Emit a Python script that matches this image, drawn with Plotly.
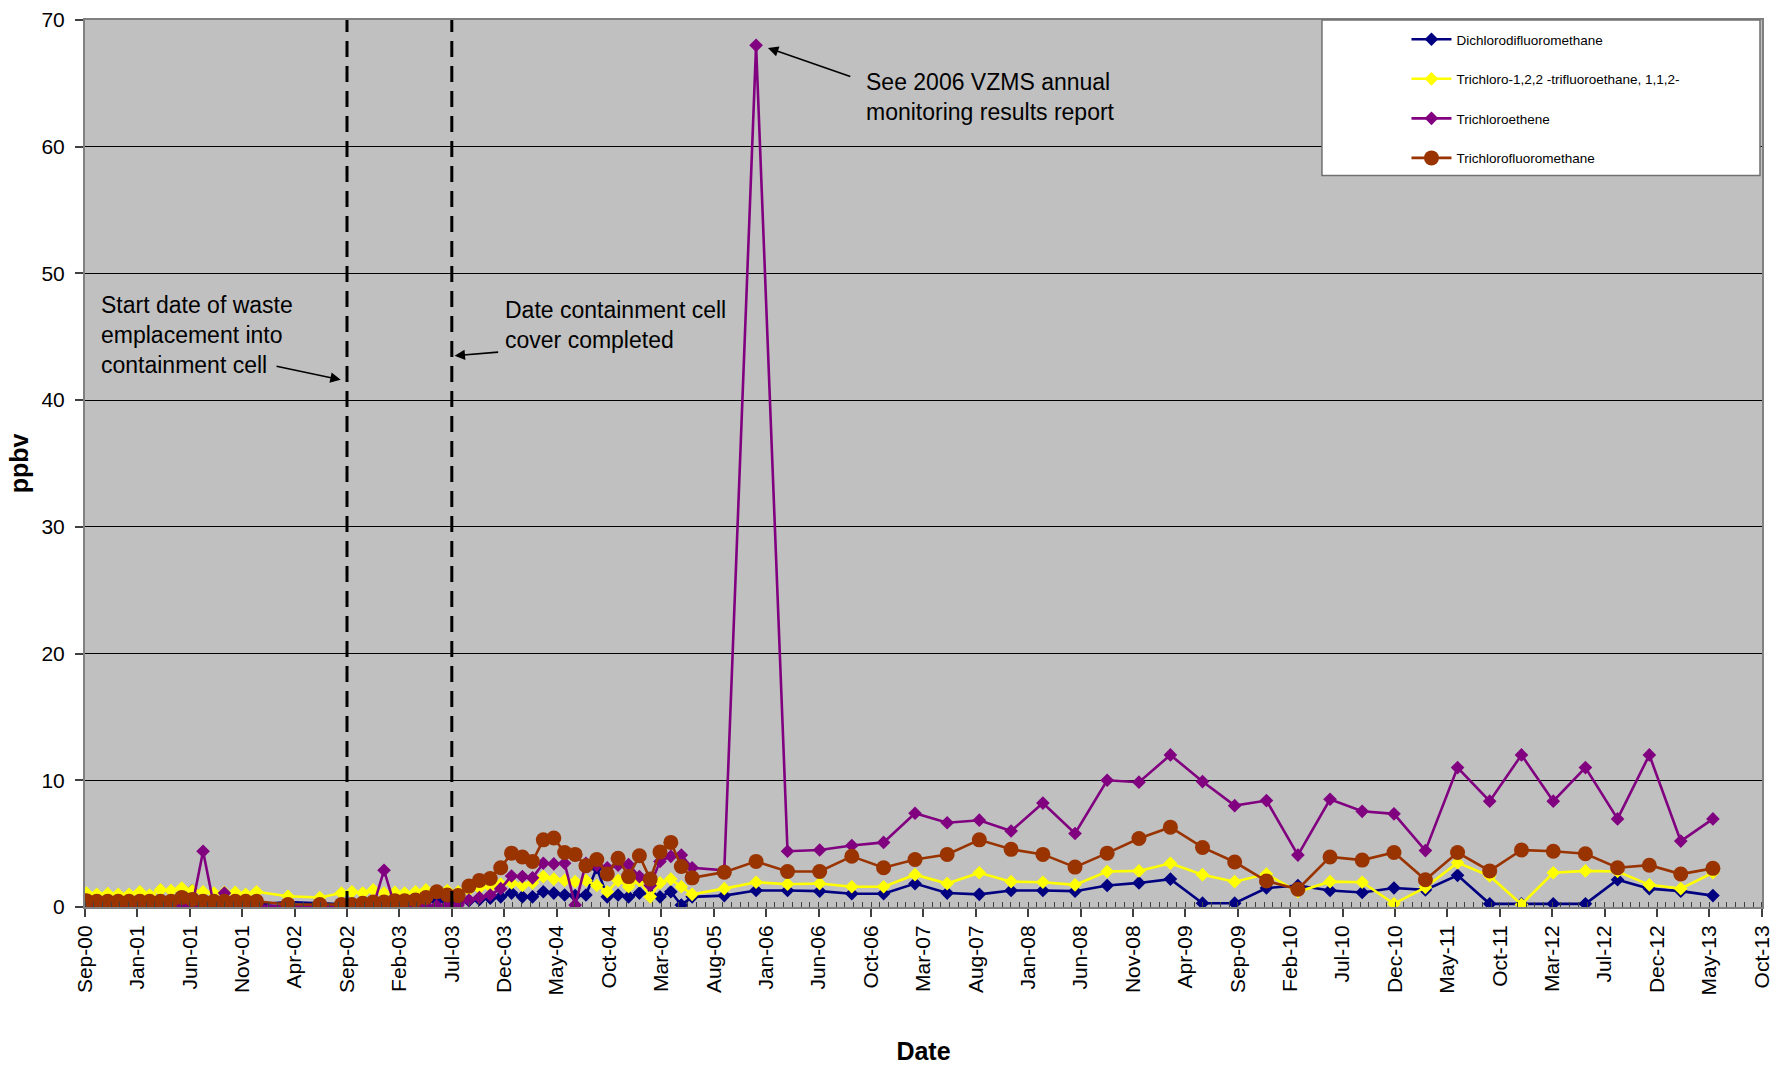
import plotly.graph_objects as go

# ---------------- data ----------------
dates = [
    # monthly Sep-2000 .. Jan-2002
    "2000-09-05", "2000-10-05", "2000-11-05", "2000-12-05", "2001-01-05", "2001-02-05",
    "2001-03-05", "2001-04-05", "2001-05-05", "2001-06-05", "2001-07-05", "2001-08-05",
    "2001-09-05", "2001-10-05", "2001-11-05", "2001-12-05", "2002-01-05",
    # sparse 2002
    "2002-04-05", "2002-07-05",
    # monthly Sep-2002 .. Jun-2005
    "2002-09-05", "2002-10-05", "2002-11-05", "2002-12-05",
    "2003-01-05", "2003-02-05", "2003-03-05", "2003-04-05", "2003-05-05", "2003-06-05",
    "2003-07-05", "2003-08-05", "2003-09-05", "2003-10-05", "2003-11-05", "2003-12-05",
    "2004-01-05", "2004-02-05", "2004-03-05", "2004-04-05", "2004-05-05", "2004-06-05",
    "2004-07-05", "2004-08-05", "2004-09-05", "2004-10-05", "2004-11-05", "2004-12-05",
    "2005-01-05", "2005-02-05", "2005-03-05", "2005-04-05", "2005-05-05", "2005-06-05",
    # quarterly Sep-2005 .. Jun-2013
    "2005-09-05", "2005-12-05", "2006-03-05", "2006-06-05", "2006-09-05", "2006-12-05",
    "2007-03-05", "2007-06-05", "2007-09-05", "2007-12-05", "2008-03-05", "2008-06-05",
    "2008-09-05", "2008-12-05", "2009-03-05", "2009-06-05", "2009-09-05", "2009-12-05",
    "2010-03-05", "2010-06-05", "2010-09-05", "2010-12-05", "2011-03-05", "2011-06-05",
    "2011-09-05", "2011-12-05", "2012-03-05", "2012-06-05", "2012-09-05", "2012-12-05",
    "2013-03-05", "2013-06-05",
]

dichlorodifluoromethane = [
    0.3, 0.2, 0.2, 0.2, 0.2, 0.2, 0.2, 0.3, 0.3, 0.5, 1.3, 0.3, 0.3, 0.3, 0.2, 0.2, 0.2,
    0.4, 0.3,
    0.2, 0.2, 0.2, 0.3, 0.3, 0.4, 0.3, 0.3, 0.4, 0.5,
    0.4, 0.4, 0.5, 0.6, 0.7, 0.8, 1.1, 0.8, 0.8, 1.2, 1.1, 0.95,
    0.9, 0.95, 3.1, 0.8, 0.95, 0.8, 1.1, 1.0, 0.8, 1.2, 0.15, 0.8,
    0.9, 1.3, 1.3, 1.25, 1.05, 1.05, 1.85, 1.1, 1.0, 1.3, 1.3, 1.25,
    1.7, 1.9, 2.2, 0.3, 0.3, 1.5, 1.7, 1.3, 1.15, 1.5, 1.35, 2.5,
    0.25, 0.25, 0.25, 0.25, 2.15, 1.45, 1.25, 0.9,
]

trichlorotrifluoroethane = [
    1.1, 1.0, 1.05, 1.0, 1.0, 1.2, 0.95, 1.35, 1.3, 1.5, 1.3, 1.2, 1.1, 1.15, 1.15, 1.0, 1.2,
    0.85, 0.75,
    1.1, 1.2, 1.1, 1.35, 1.1, 1.15, 1.1, 1.2, 1.35, 1.15,
    1.3, 1.2, 1.35, 1.5, 1.6, 1.8, 1.9, 1.7, 1.9, 2.4, 2.2, 2.1,
    2.0, 2.1, 1.7, 1.2, 2.1, 1.6, 2.1, 0.8, 1.9, 2.2, 1.6, 1.0,
    1.45, 1.95, 1.8, 1.85, 1.6, 1.6, 2.55, 1.85, 2.7, 2.0, 1.95, 1.75,
    2.8, 2.85, 3.45, 2.55, 2.0, 2.6, 1.2, 2.0, 1.95, 0.25, 1.55, 3.5,
    2.45, 0.2, 2.7, 2.85, 2.8, 1.75, 1.45, 2.7,
]

trichloroethene = [
    0.1, 0.1, 0.1, 0.1, 0.1, 0.1, 0.1, 0.1, 0.1, 0.2, 0.1, 4.4, 0.1, 1.1, 0.1, 0.1, 0.1,
    0.1, 0.1,
    0.05, 0.05, 0.05, 0.05, 2.9, 0.05, 0.05, 0.05, 0.1, 0.1,
    0.15, 0.15, 0.55, 0.75, 0.95, 1.45, 2.45, 2.4, 2.3, 3.45, 3.4, 3.45,
    0.15, 3.45, 3.3, 3.1, 3.3, 3.35, 2.4, 1.7, 3.6, 4.0, 4.1, 3.1,
    2.9, 68.0, 4.4, 4.5, 4.85, 5.1, 7.4, 6.65, 6.85, 6.0, 8.2, 5.8,
    10.0, 9.85, 12.0, 9.9, 8.0, 8.4, 4.1, 8.5, 7.55, 7.35, 4.45, 11.0,
    8.35, 12.0, 8.35, 11.0, 6.95, 12.0, 5.2, 6.95,
]

trichlorofluoromethane = [
    0.5, 0.45, 0.45, 0.45, 0.45, 0.45, 0.45, 0.45, 0.45, 0.75, 0.6, 0.45, 0.45, 0.45, 0.45, 0.45, 0.45,
    0.2, 0.2,
    0.2, 0.2, 0.3, 0.4, 0.4, 0.5, 0.5, 0.55, 0.75, 1.2,
    0.95, 0.9, 1.65, 2.1, 2.25, 3.1, 4.25, 3.95, 3.6, 5.3, 5.45, 4.3,
    4.15, 3.25, 3.75, 2.6, 3.85, 2.4, 4.05, 2.2, 4.35, 5.1, 3.2, 2.3,
    2.75, 3.6, 2.8, 2.8, 4.0, 3.1, 3.75, 4.15, 5.3, 4.55, 4.15, 3.15,
    4.25, 5.4, 6.3, 4.7, 3.55, 2.05, 1.4, 3.95, 3.7, 4.3, 2.15, 4.3,
    2.85, 4.5, 4.4, 4.2, 3.1, 3.3, 2.6, 3.05,
]

series_names = [
    "Dichlorodifluoromethane",
    "Trichloro-1,2,2 -trifluoroethane, 1,1,2-",
    "Trichloroethene",
    "Trichlorofluoromethane",
]
series_values = [dichlorodifluoromethane, trichlorotrifluoroethane,
                 trichloroethene, trichlorofluoromethane]
series_colors = ["#000080", "#FFFF00", "#800080", "#993300"]
series_symbols = ["diamond", "diamond", "diamond", "circle"]
series_sizes = [10.5, 10.5, 10.5, 15]

event_dates = ["2002-09-21", "2003-07-18"]

FONT = "Liberation Sans, Arial, sans-serif"

fig = go.Figure()
for i, (name, vals) in enumerate(zip(series_names, series_values)):
    fig.add_trace(go.Scatter(
        x=dates, y=vals, name=name, mode="lines+markers",
        legendgroup=f"g{i}",
        line=dict(color=series_colors[i], width=2.6),
        marker=dict(symbol=series_symbols[i], size=series_sizes[i],
                    color=series_colors[i], line=dict(width=0)),
    ))

# dashed event lines
for d in event_dates:
    fig.add_shape(type="line", xref="x", yref="y", x0=d, x1=d, y0=0, y1=70,
                  line=dict(color="black", width=3, dash="16px,9px"), layer="above")

# legend box
fig.add_shape(type="rect", xref="paper", yref="paper",
              x0=0.7376, x1=0.9988, y0=0.8246, y1=1.0,
              fillcolor="white", line=dict(color="#707070", width=1.5), layer="above")

ann_font = dict(family=FONT, size=23, color="black")
fig.add_annotation(x="2000-10-11", y=45.15, xref="x", yref="y", xanchor="left", yanchor="middle",
                   align="left", showarrow=False, font=ann_font,
                   text="Start date of waste<br>emplacement into<br>containment cell")
fig.add_annotation(x="2003-12-12", y=45.9, xref="x", yref="y", xanchor="left", yanchor="middle",
                   align="left", showarrow=False, font=ann_font,
                   text="Date containment cell<br>cover completed")
fig.add_annotation(x="2006-10-09", y=63.95, xref="x", yref="y", xanchor="left", yanchor="middle",
                   align="left", showarrow=False, font=ann_font,
                   text="See 2006 VZMS annual<br>monitoring results report")

arrow_style = dict(xref="x", yref="y", axref="x", ayref="y", text="", showarrow=True,
                   arrowhead=2, arrowsize=1.3, arrowwidth=1.6, arrowcolor="black")
fig.add_annotation(x="2002-09-03", y=41.6, ax="2002-02-27", ay=42.7, **arrow_style)
fig.add_annotation(x="2003-07-26", y=43.5, ax="2003-12-02", ay=43.8, **arrow_style)
fig.add_annotation(x="2006-01-08", y=67.8, ax="2006-09-05", ay=65.5, **arrow_style)

DAY = 86400000
fig.update_layout(
    width=1782, height=1066,
    margin=dict(l=85, r=20, t=20, b=159),
    paper_bgcolor="white", plot_bgcolor="#C0C0C0",
    font=dict(family=FONT, color="black"),
    showlegend=True,
    legend=dict(x=0.788, y=0.9955, xanchor="left", yanchor="top",
                bgcolor="rgba(0,0,0,0)", borderwidth=0,
                font=dict(family=FONT, size=13.5, color="black"),
                tracegroupgap=19, itemwidth=40),
    xaxis=dict(
        type="date", range=["2000-09-01", "2013-10-23 12:00"], automargin=False,
        tick0="2000-09-01", dtick=150 * DAY, tickformat="%b-%y", tickangle=-90,
        ticks="outside", ticklen=8, tickwidth=1.5, tickcolor="#404040",
        showgrid=False, zeroline=False,
        showline=True, linecolor="#808080", linewidth=2, mirror=True,
        minor=dict(tick0="2000-09-01", dtick=25 * DAY, ticks="inside", ticklen=5,
                   tickwidth=1, tickcolor="#404040", showgrid=False),
        tickfont=dict(family=FONT, size=21, color="black"),
        title=dict(text="<b>Date</b>", font=dict(family=FONT, size=25), standoff=48),
    ),
    yaxis=dict(
        range=[0, 70], tick0=0, dtick=10, automargin=False,
        showgrid=True, gridcolor="black", gridwidth=1, zeroline=False,
        showline=True, linecolor="#808080", linewidth=2, mirror=True,
        ticks="outside", ticklen=8, tickwidth=1.5, tickcolor="#404040",
        ticklabelstandoff=6,
        tickfont=dict(family=FONT, size=21, color="black"),
        title=dict(text="<b>ppbv</b>", font=dict(family=FONT, size=25), standoff=6),
    ),
)

fig.write_html("out.html", config={"displayModeBar": False},
               post_script="document.body.style.margin='0';document.body.style.overflow='hidden';")
